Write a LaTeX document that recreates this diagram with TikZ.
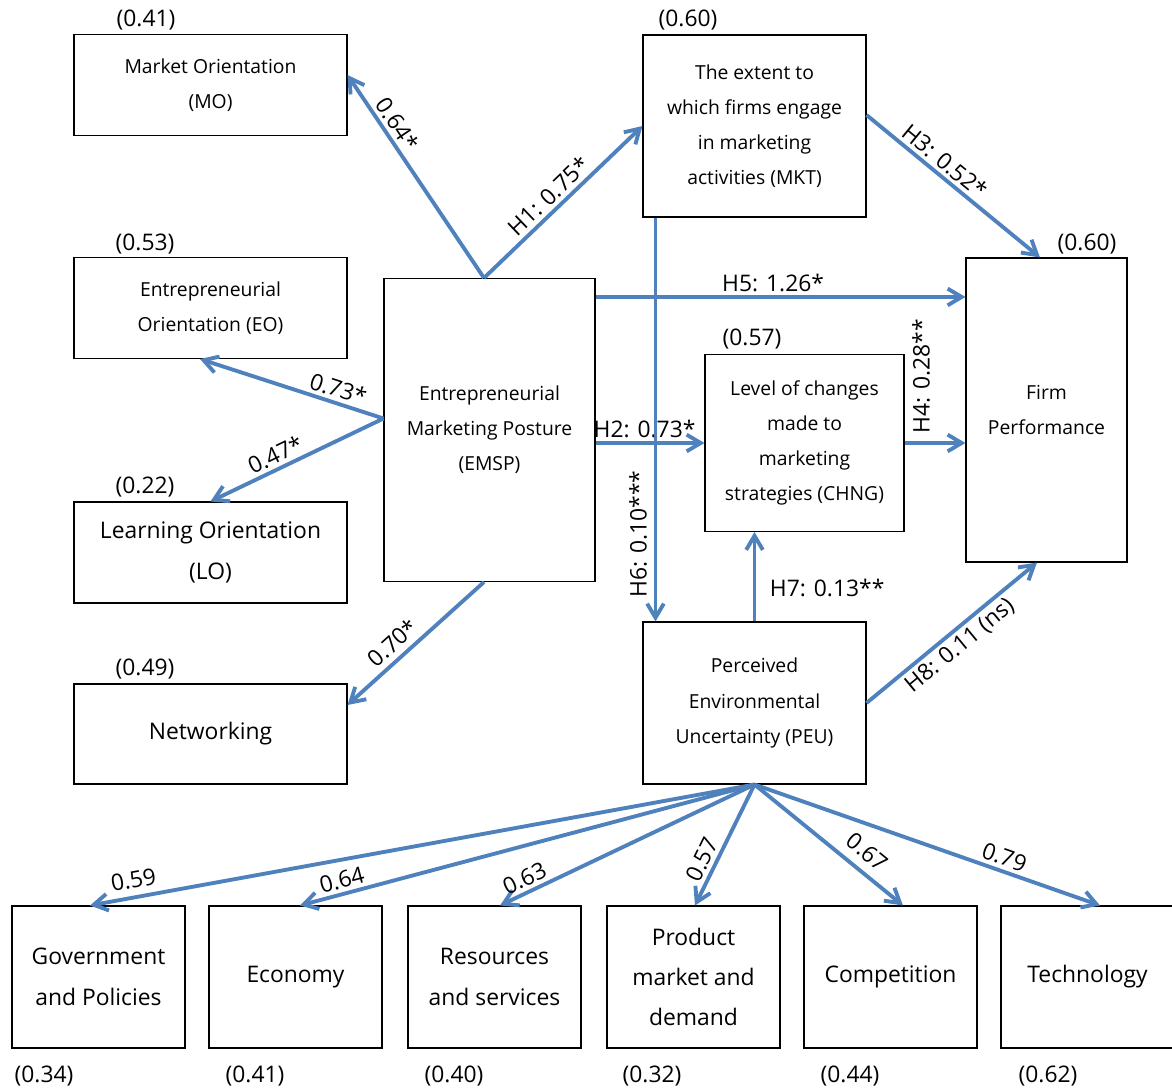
\documentclass[tikz,border=0pt]{standalone}
\usepackage{fontspec}
\setmainfont{Open Sans}
\usetikzlibrary{arrows.meta}
\definecolor{linkblue}{RGB}{79,129,189}
\tikzset{
  box/.style={draw, line width=0.6pt, align=center, inner sep=0pt, font=\fontsize{11}{20}\selectfont},
  bigbox/.style={box, font=\fontsize{13}{23}\selectfont},
  sidebox/.style={minimum width=54.6mm, minimum height=20.2mm},
  envbox/.style={bigbox, minimum width=34.6mm, minimum height=28.4mm},
  lbl/.style={font=\fontsize{13}{15}\selectfont, inner sep=2pt},
  link/.style={draw=linkblue, line width=2.2pt, -{Straight Barb[length=8pt,width=9.5pt]}}
}
\begin{document}
\begin{tikzpicture}[x=0.2mm, y=-0.2mm]
    \useasboundingbox (0,0) rectangle (1172,1090);
    % Dimensions on the left side
    \node[box, sidebox] (mo) at (210.5,85) {Market Orientation\\(MO)};
    \node[lbl] (r2mo) at (146,20) {(0.41)};
    \node[box, sidebox] (eo) at (210.5,308) {Entrepreneurial\\Orientation (EO)};
    \node[lbl] (r2eo) at (145,244) {(0.53)};
    \node[bigbox, sidebox] (lo) at (210.5,552.5) {Learning Orientation\\(LO)};
    \node[lbl] (r2lo) at (145,487) {(0.22)};
    \node[bigbox, sidebox, minimum height=20mm] (net) at (210.5,734) {Networking};
    \node[lbl] (r2net) at (145,669) {(0.49)};
    % Central construct
    \node[box, minimum width=42.2mm, minimum height=60.6mm] (emsp) at (489.5,430) {Entrepreneurial\\Marketing Posture\\(EMSP)};
    % Mediators and outcome
    \node[box, minimum width=44.6mm, minimum height=36.4mm] (mkt) at (754.5,126) {The extent to\\which firms engage\\in marketing\\activities (MKT)};
    \node[lbl] (r2mkt) at (688,20) {(0.60)};
    \node[box, minimum width=39.8mm, minimum height=35.4mm] (chng) at (804.5,443) {Level of changes\\made to\\marketing\\strategies (CHNG)};
    \node[lbl] (r2chng) at (752,339) {(0.57)};
    \node[box, minimum width=32.2mm, minimum height=60.8mm] (fp) at (1046.5,410) {Firm\\Performance};
    \node[lbl] (r2fp) at (1087,244) {(0.60)};
    \node[box, minimum width=44.6mm, minimum height=32.4mm] (peu) at (754.5,703) {Perceived\\Environmental\\Uncertainty (PEU)};
    % Dimensions of uncertainty at the bottom
    \node[envbox] (gov) at (98.5,977) {Government\\and Policies};
    \node[lbl] (r2gov) at (44,1076) {(0.34)};
    \node[envbox] (econ) at (295.5,977) {Economy};
    \node[lbl] (r2econ) at (255,1076) {(0.41)};
    \node[envbox] (res) at (494.5,977) {Resources\\and services};
    \node[lbl] (r2res) at (454,1076) {(0.40)};
    \node[envbox] (prod) at (693.5,977) {Product\\market and\\demand};
    \node[lbl] (r2prod) at (652,1076) {(0.32)};
    \node[envbox] (comp) at (890.5,977) {Competition};
    \node[lbl] (r2comp) at (850,1076) {(0.44)};
    \node[envbox] (tech) at (1087.5,977) {Technology};
    \node[lbl] (r2tech) at (1048,1076) {(0.62)};
    % Exit points on the central construct
    \coordinate (emsptop) at ([xshift=-1.1mm]emsp.north);
    \coordinate (emspleft) at ([yshift=2.3mm]emsp.west);
    \coordinate (emspbot) at ([xshift=-1.1mm]emsp.south);
    \coordinate (emsph5) at ([yshift=-3.8mm]emsp.north east);
    \coordinate (mkth6) at ([xshift=2.6mm]mkt.south west);
    % Loadings of EMSP
    \draw[link] (emsptop) -- node[lbl, sloped, above, pos=0.72] {0.64*} ([yshift=2mm]mo.east);
    \draw[link] (emspleft) -- node[lbl, sloped, above, pos=0.27] {0.73*} ([xshift=-2.1mm]eo.south);
    \draw[link] (emspleft) -- node[lbl, sloped, above, pos=0.59] {0.47*} (lo.north);
    \draw[link] (emspbot) -- node[lbl, sloped, above=1pt, pos=0.59] {0.70*} ([yshift=5.8mm]net.east);
    % Hypotheses
    \draw[link] (emsptop) -- node[lbl, sloped, above, pos=0.47] {H1: 0.75*} (mkt.west);
    \draw[link] (emsp.east |- chng.west) -- node[lbl, above, pos=0.45] {H2: 0.73*} (chng.west);
    \draw[link] ([yshift=2.2mm]mkt.east) -- node[lbl, sloped, above, pos=0.40] {H3: 0.52*} ([xshift=-1.3mm]fp.north);
    \draw[link] (chng.east) -- (chng.east -| fp.west);
    \node[lbl, rotate=90] (h4) at (921,376) {H4: 0.28**};
    \draw[link] (emsph5) -- node[lbl, above, pos=0.48] {H5: 1.26*} (emsph5 -| fp.west);
    \draw[link] (mkth6) -- (mkth6 |- peu.north);
    \node[lbl, rotate=90] (h6) at (638,534) {H6: 0.10***};
    \draw[link] (peu.north) -- node[lbl, right, pos=0.37, xshift=2mm] {H7: 0.13**} (peu.north |- chng.south);
    \draw[link] (peu.east) -- node[lbl, sloped, below, pos=0.49] {H8: 0.11 (ns)} ([xshift=-1.9mm]fp.south);
    % Loadings of PEU
    \draw[link] (peu.south) -- node[lbl, sloped, above=2pt, pos=0.93] {0.59} ([xshift=-1.7mm]gov.north);
    \draw[link] (peu.south) -- node[lbl, sloped, above, pos=0.90] {0.64} ([xshift=0.9mm]econ.north);
    \draw[link] (peu.south) -- node[lbl, sloped, above, pos=0.88] {0.63} ([xshift=1.1mm]res.north);
    \draw[link] (peu.south) -- node[lbl, sloped, above, pos=0.67] {0.57} ([xshift=0.3mm]prod.north);
    \draw[link] (peu.south) -- node[lbl, sloped, above=3pt, pos=0.68] {0.67} ([xshift=2.5mm]comp.north);
    \draw[link] (peu.south) -- node[lbl, sloped, above, pos=0.71] {0.79} ([xshift=2.5mm]tech.north);
\end{tikzpicture}
\end{document}
